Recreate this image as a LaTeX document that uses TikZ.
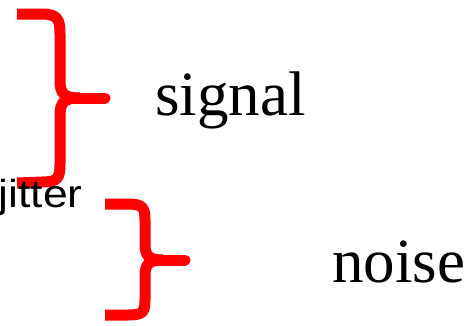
\documentclass[tikz,border=0pt]{standalone}
\usepackage{fontspec}
\setmainfont{Liberation Serif}
\newfontfamily\jitfont{Liberation Sans}
\begin{document}
\begin{tikzpicture}[x=1pt,y=-1pt,
  bracestroke/.style={draw=red, line width=11pt, line cap=butt, line join=round},
  bracearm/.style={draw=red, line width=11pt, line cap=round},
  bigword/.style={font=\fontsize{63}{63}\selectfont, inner sep=0pt, anchor=base west},
  smallword/.style={font=\jitfont\fontsize{39}{39}\selectfont, inner sep=0pt, anchor=base east, xscale=1.14}]
\useasboundingbox (0,0) rectangle (472,325);
% brace 1
\draw[bracestroke] (17,14) -- (42,14) .. controls (58,14) and (60,20) .. (60,34)
  -- (60,80) .. controls (60,94) and (64,98) .. (80,98);
\draw[bracestroke] (80,98) .. controls (64,98) and (60,102) .. (60,116)
  -- (60,164) .. controls (60,178) and (58,182) .. (42,182) -- (17,183);
\draw[bracearm] (72,98) -- (105,98);
% brace 2
\draw[bracestroke] (105,204) -- (128,204) .. controls (143,204) and (145,208) .. (145,220)
  -- (145,244) .. controls (145,256) and (149,260) .. (163,260);
\draw[bracestroke] (163,260) .. controls (149,260) and (145,264) .. (145,276)
  -- (145,300) .. controls (145,312) and (143,315) .. (128,315) -- (105,315);
\draw[bracearm] (156,260) -- (185,260);
% texts
\node[bigword] (signal) at (155,115) {signal};
\node[bigword] (noise) at (332,282) {noise};
\node[smallword] (jitter) at (83,207) {jitter};
\end{tikzpicture}
\end{document}
